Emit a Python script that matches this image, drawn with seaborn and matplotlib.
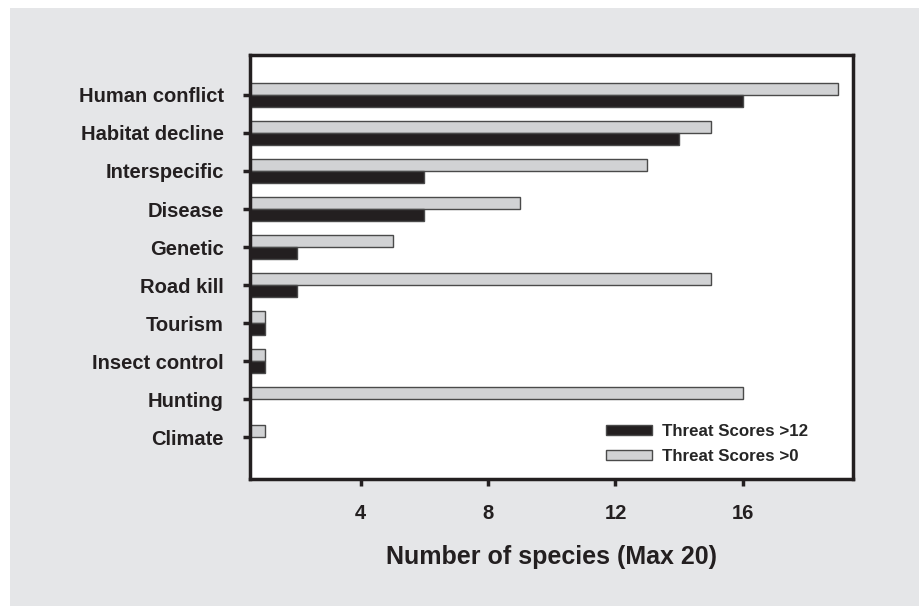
import pandas as pd
import matplotlib.pyplot as plt
import seaborn as sns
from matplotlib.patches import Rectangle

threats = ['Human conflict', 'Habitat decline', 'Interspecific', 'Disease', 'Genetic',
           'Road kill', 'Tourism', 'Insect control', 'Hunting', 'Climate']
score_gt0 = [19, 15, 13, 9, 5, 15, 1, 1, 16, 1]
score_gt12 = [16, 14, 6, 6, 2, 2, 1, 1, 0, 0]
series = ['Threat Scores >0', 'Threat Scores >12']

df = pd.DataFrame({
    'threat': threats * 2,
    'n': score_gt0 + score_gt12,
    'series': [series[0]] * len(threats) + [series[1]] * len(threats),
})

sns.set_style('white')
plt.rcParams['font.family'] = ['Liberation Sans', 'DejaVu Sans']
ink = '#231f20'

fig = plt.figure(figsize=(9.19, 6.06), dpi=100, facecolor='white')
# grey panel behind everything
fig.patches.append(Rectangle((10 / 919, 0), 1, 1 - 8 / 606, transform=fig.transFigure,
                             facecolor='#e5e6e8', edgecolor='none', zorder=-10))
ax = fig.add_axes([250 / 919, 1 - 479 / 606, 603 / 919, 424 / 606])

sns.barplot(data=df, y='threat', x='n', hue='series', hue_order=series, order=threats,
            palette={series[0]: '#d1d2d4', series[1]: ink}, width=0.63,
            edgecolor='#4a4a4a', linewidth=1, saturation=1, ax=ax)

ax.set_xlim(0.52, 19.46)
ax.set_ylim(10.1, -1.05)
ax.set_xticks([4, 8, 12, 16])
ax.set_xlabel('Number of species (Max 20)', fontsize=18, fontweight='bold', color=ink, labelpad=16)
ax.set_ylabel('')
for s in ax.spines.values():
    s.set_visible(True)
    s.set_color(ink)
    s.set_linewidth(2.5)
ax.tick_params(axis='both', direction='out', length=5, width=2.5, color=ink,
               labelsize=14.5, labelcolor=ink, bottom=True, left=True)
ax.tick_params(axis='x', pad=13)
ax.tick_params(axis='y', pad=14)
for lab in ax.get_xticklabels() + ax.get_yticklabels():
    lab.set_fontweight('bold')

h, l = ax.get_legend_handles_labels()
ax.legend(h[::-1], l[::-1], loc='upper left', frameon=False,
          prop={'weight': 'bold', 'size': 12.2}, handlelength=2.7, handleheight=0.6,
          bbox_to_anchor=(0.59, 0.13), borderaxespad=0, borderpad=0,
          handletextpad=0.6, labelspacing=0.6)

fig.savefig('out.png', dpi=100)
